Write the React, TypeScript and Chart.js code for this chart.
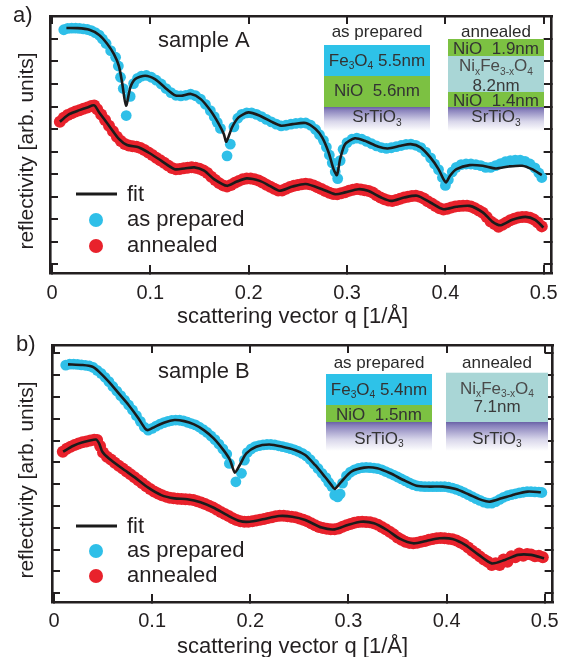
import React, { useEffect, useRef } from "react";
import { Chart, registerables } from "chart.js";

Chart.register(...registerables);

const FONT = "'Liberation Sans', Arial, Helvetica, sans-serif";
const INK = "#231f20";
const CYAN = "#2fbfe8";
const RED = "#e8222c";
const FIT = "#1b1b1b";

// ---------- axes ----------
const qMin = -0.002;
const qMax = 0.508;
const qStep = 0.1;
const rStep = 1;

// ---------- panel a : sample A ----------
const aRange = [-0.39, 11.02];

const aFitPrepared: [number, number][] = [
  [0.0147, 10.49], [0.026, 10.48], [0.038, 10.41], [0.048, 10.18], [0.0563, 9.78], [0.063, 9.33],
  [0.068, 8.81], [0.0713, 8.07], [0.0753, 7.04], [0.0797, 7.85], [0.0847, 8.22], [0.0947, 8.37],
  [0.1047, 8.22], [0.1147, 7.85], [0.1247, 7.51], [0.1313, 7.48], [0.1413, 7.56], [0.1513, 7.33],
  [0.1613, 6.81], [0.1697, 6.22], [0.1747, 5.78], [0.1773, 5.44], [0.183, 6.07], [0.1897, 6.52],
  [0.1997, 6.74], [0.2113, 6.59], [0.223, 6.33], [0.233, 6.15], [0.2447, 6.22], [0.258, 6.27],
  [0.268, 6.0], [0.2747, 5.63], [0.2813, 4.96], [0.2863, 4.22], [0.2897, 3.96], [0.293, 4.67],
  [0.298, 5.33], [0.308, 5.59], [0.318, 5.48], [0.3313, 5.23], [0.3413, 5.14], [0.3547, 5.26],
  [0.3647, 5.33], [0.3747, 5.19], [0.3847, 4.74], [0.393, 4.22], [0.398, 3.78], [0.4007, 3.63],
  [0.4047, 3.93], [0.4113, 4.22], [0.4247, 4.4], [0.438, 4.37], [0.4513, 4.25], [0.4647, 4.34],
  [0.478, 4.37], [0.488, 4.22], [0.498, 3.96],
];

const aFitAnnealed: [number, number][] = [
  [0.008, 6.33], [0.018, 6.67], [0.028, 6.84], [0.036, 6.96], [0.043, 7.05], [0.048, 6.74],
  [0.058, 6.15], [0.068, 5.56], [0.0763, 5.29], [0.088, 5.19], [0.098, 4.96], [0.1113, 4.59],
  [0.1247, 4.22], [0.1347, 4.25], [0.1447, 4.3], [0.1547, 4.15], [0.1647, 3.78], [0.178, 3.48],
  [0.188, 3.67], [0.198, 3.81], [0.2113, 3.7], [0.2213, 3.48], [0.2313, 3.26], [0.2447, 3.45],
  [0.258, 3.56], [0.2747, 3.33], [0.288, 3.11], [0.298, 3.19], [0.3113, 3.33], [0.3213, 3.26],
  [0.3347, 2.96], [0.3447, 2.81], [0.358, 2.96], [0.3713, 3.04], [0.3847, 2.74], [0.398, 2.44],
  [0.4113, 2.55], [0.4247, 2.59], [0.438, 2.3], [0.448, 1.88], [0.4563, 1.73], [0.468, 1.97],
  [0.4813, 2.1], [0.4913, 1.97], [0.4997, 1.63],
];

const aPrepared: [number, number][] = [
  [0.012, 10.41], [0.016, 10.47], [0.02, 10.48], [0.024, 10.48], [0.028, 10.47], [0.032, 10.45],
  [0.036, 10.42], [0.04, 10.37], [0.044, 10.28], [0.048, 10.17], [0.0513, 10.0], [0.055, 9.8],
  [0.0597, 9.48], [0.0647, 9.19], [0.0675, 8.8], [0.0697, 8.3], [0.0725, 7.8], [0.0755, 6.6],
  [0.0795, 7.45], [0.083, 8.02], [0.087, 8.25], [0.091, 8.35], [0.096, 8.38], [0.101, 8.3],
  [0.106, 8.17], [0.111, 8.0], [0.116, 7.8], [0.121, 7.62], [0.126, 7.5], [0.131, 7.47],
  [0.136, 7.5], [0.141, 7.55], [0.146, 7.48], [0.151, 7.33], [0.156, 7.1], [0.161, 6.82],
  [0.165, 6.55], [0.168, 6.3], [0.1713, 6.03], [0.178, 4.81], [0.1813, 5.33], [0.185, 6.1],
  [0.189, 6.48], [0.193, 6.65], [0.198, 6.72], [0.203, 6.72], [0.208, 6.65], [0.213, 6.55],
  [0.218, 6.43], [0.223, 6.32], [0.228, 6.22], [0.233, 6.14], [0.238, 6.17], [0.243, 6.22],
  [0.248, 6.25], [0.253, 6.27], [0.258, 6.27], [0.263, 6.17], [0.268, 5.98], [0.272, 5.75],
  [0.276, 5.5], [0.279, 5.2], [0.282, 4.85], [0.285, 4.5], [0.288, 4.1], [0.2905, 3.8],
  [0.293, 4.6], [0.296, 5.1], [0.3, 5.4], [0.305, 5.55], [0.31, 5.6], [0.315, 5.55],
  [0.32, 5.45], [0.325, 5.35], [0.33, 5.25], [0.335, 5.18], [0.34, 5.14], [0.345, 5.17],
  [0.35, 5.22], [0.355, 5.27], [0.36, 5.32], [0.365, 5.33], [0.37, 5.28], [0.375, 5.18],
  [0.38, 4.98], [0.385, 4.72], [0.389, 4.45], [0.393, 4.2], [0.397, 3.85], [0.4, 3.5],
  [0.403, 3.75], [0.407, 4.1], [0.411, 4.3], [0.416, 4.42], [0.421, 4.45], [0.426, 4.45],
  [0.431, 4.42], [0.436, 4.38], [0.441, 4.3], [0.446, 4.3], [0.451, 4.38], [0.456, 4.47],
  [0.461, 4.55], [0.466, 4.6], [0.471, 4.62], [0.476, 4.62], [0.481, 4.57], [0.486, 4.45],
  [0.491, 4.28], [0.495, 4.05], [0.498, 3.85],
];

const aAnnealed: [number, number][] = [
  [0.008, 6.33], [0.012, 6.5], [0.016, 6.62], [0.02, 6.7], [0.024, 6.78], [0.028, 6.84],
  [0.032, 6.9], [0.036, 6.96], [0.04, 7.02], [0.043, 7.05], [0.046, 6.88], [0.05, 6.65],
  [0.054, 6.4], [0.058, 6.15], [0.062, 5.9], [0.066, 5.66], [0.07, 5.47], [0.074, 5.34],
  [0.078, 5.27], [0.082, 5.24], [0.086, 5.21], [0.09, 5.16], [0.094, 5.07], [0.098, 4.96],
  [0.102, 4.85], [0.106, 4.73], [0.11, 4.62], [0.114, 4.5], [0.118, 4.38], [0.122, 4.27],
  [0.126, 4.22], [0.13, 4.23], [0.134, 4.26], [0.138, 4.28], [0.142, 4.3], [0.146, 4.28],
  [0.15, 4.24], [0.154, 4.16], [0.158, 4.05], [0.162, 3.88], [0.166, 3.74], [0.17, 3.6],
  [0.174, 3.5], [0.178, 3.45], [0.182, 3.52], [0.186, 3.62], [0.19, 3.7], [0.194, 3.77],
  [0.198, 3.8], [0.202, 3.8], [0.206, 3.77], [0.21, 3.72], [0.214, 3.63], [0.218, 3.53],
  [0.222, 3.44], [0.226, 3.35], [0.23, 3.27], [0.234, 3.27], [0.238, 3.35], [0.242, 3.43],
  [0.246, 3.48], [0.25, 3.52], [0.254, 3.55], [0.258, 3.57], [0.262, 3.55], [0.266, 3.5],
  [0.27, 3.42], [0.274, 3.34], [0.278, 3.25], [0.282, 3.17], [0.286, 3.12], [0.29, 3.11],
  [0.294, 3.15], [0.298, 3.2], [0.302, 3.26], [0.306, 3.31], [0.31, 3.34], [0.314, 3.32],
  [0.318, 3.28], [0.322, 3.25], [0.326, 3.18], [0.33, 3.06], [0.334, 2.96], [0.338, 2.88],
  [0.342, 2.83], [0.346, 2.81], [0.35, 2.85], [0.354, 2.91], [0.358, 2.96], [0.362, 3.0],
  [0.366, 3.03], [0.37, 3.04], [0.374, 3.0], [0.378, 2.92], [0.382, 2.8], [0.386, 2.7],
  [0.39, 2.58], [0.394, 2.48], [0.398, 2.43], [0.402, 2.46], [0.406, 2.52], [0.41, 2.56],
  [0.414, 2.58], [0.418, 2.6], [0.422, 2.6], [0.426, 2.56], [0.43, 2.48], [0.434, 2.38],
  [0.438, 2.28], [0.442, 2.1], [0.446, 1.9], [0.45, 1.78], [0.454, 1.66], [0.458, 1.75],
  [0.462, 1.85], [0.466, 1.95], [0.47, 2.02], [0.474, 2.07], [0.478, 2.1], [0.482, 2.1],
  [0.486, 2.06], [0.49, 1.98], [0.494, 1.85], [0.498, 1.68],
];

// ---------- panel b : sample B ----------
const bRange = [-0.4, 11.38];

const bFitPrepared: [number, number][] = [
  [0.0143, 10.49], [0.0293, 10.46], [0.0393, 10.38], [0.046, 10.15], [0.056, 9.69], [0.066, 9.16],
  [0.076, 8.63], [0.086, 8.02], [0.0927, 7.56], [0.096, 7.48], [0.1027, 7.63], [0.1127, 7.83],
  [0.1227, 7.94], [0.1327, 7.89], [0.1427, 7.74], [0.1527, 7.48], [0.1627, 7.1], [0.1727, 6.56],
  [0.1793, 6.11], [0.1843, 5.53], [0.1893, 5.88], [0.196, 6.41], [0.206, 6.72], [0.2193, 6.82],
  [0.2327, 6.72], [0.246, 6.56], [0.256, 6.34], [0.266, 5.88], [0.276, 5.34], [0.2827, 4.96],
  [0.286, 4.78], [0.2927, 5.11], [0.3027, 5.57], [0.316, 5.76], [0.3293, 5.73], [0.3427, 5.5],
  [0.356, 5.19], [0.3693, 4.93], [0.3827, 4.89], [0.396, 4.89], [0.4093, 4.78], [0.4227, 4.53],
  [0.436, 4.27], [0.4443, 4.2], [0.456, 4.35], [0.4693, 4.53], [0.4827, 4.66], [0.496, 4.63],
];

const bFitAnnealed: [number, number][] = [
  [0.0093, 6.49], [0.0193, 6.75], [0.0293, 6.92], [0.0427, 7.05], [0.046, 6.87], [0.0493, 6.49],
  [0.056, 6.18], [0.0693, 5.73], [0.0827, 5.3], [0.096, 4.84], [0.1093, 4.5], [0.1227, 4.35],
  [0.136, 4.31], [0.1493, 4.17], [0.1627, 3.92], [0.176, 3.59], [0.1893, 3.31], [0.1993, 3.28],
  [0.2127, 3.39], [0.2293, 3.54], [0.2427, 3.51], [0.256, 3.36], [0.2727, 3.01], [0.286, 2.93],
  [0.2993, 3.13], [0.3127, 3.28], [0.326, 3.21], [0.3393, 2.9], [0.3527, 2.49], [0.366, 2.29],
  [0.3793, 2.4], [0.3927, 2.52], [0.406, 2.49], [0.4193, 2.21], [0.4327, 1.76], [0.446, 1.37],
  [0.4593, 1.53], [0.4727, 1.76], [0.486, 1.76], [0.4993, 1.6],
];

const bPrepared: [number, number][] = [
  [0.012, 10.46], [0.016, 10.5], [0.02, 10.5], [0.024, 10.49], [0.028, 10.47], [0.032, 10.45],
  [0.036, 10.42], [0.04, 10.35], [0.044, 10.22], [0.048, 10.08], [0.052, 9.9], [0.056, 9.7],
  [0.06, 9.48], [0.064, 9.27], [0.068, 9.06], [0.072, 8.85], [0.076, 8.63], [0.08, 8.4],
  [0.084, 8.14], [0.088, 7.88], [0.092, 7.62], [0.096, 7.48], [0.1, 7.56], [0.104, 7.66],
  [0.108, 7.75], [0.112, 7.82], [0.116, 7.88], [0.12, 7.92], [0.124, 7.94], [0.128, 7.93],
  [0.132, 7.9], [0.136, 7.84], [0.14, 7.78], [0.144, 7.72], [0.148, 7.62], [0.152, 7.5],
  [0.156, 7.37], [0.16, 7.21], [0.164, 7.04], [0.168, 6.84], [0.172, 6.62], [0.176, 6.38],
  [0.1787, 5.95], [0.1853, 5.11], [0.191, 5.5], [0.194, 6.1], [0.197, 6.45], [0.201, 6.62],
  [0.205, 6.72], [0.209, 6.77], [0.213, 6.8], [0.217, 6.82], [0.221, 6.82], [0.225, 6.8],
  [0.229, 6.76], [0.233, 6.72], [0.237, 6.68], [0.241, 6.63], [0.245, 6.57], [0.249, 6.5],
  [0.253, 6.41], [0.257, 6.3], [0.261, 6.13], [0.265, 5.93], [0.269, 5.72], [0.273, 5.5],
  [0.277, 5.3], [0.28, 5.08], [0.283, 4.9], [0.286, 4.5], [0.289, 4.42], [0.2915, 4.55],
  [0.294, 5.05], [0.298, 5.38], [0.302, 5.55], [0.306, 5.65], [0.31, 5.72], [0.314, 5.76],
  [0.318, 5.77], [0.322, 5.76], [0.326, 5.74], [0.33, 5.71], [0.334, 5.66], [0.338, 5.58],
  [0.342, 5.5], [0.346, 5.42], [0.35, 5.33], [0.354, 5.24], [0.358, 5.15], [0.362, 5.06],
  [0.366, 4.98], [0.37, 4.92], [0.374, 4.9], [0.378, 4.89], [0.382, 4.89], [0.386, 4.89],
  [0.39, 4.89], [0.394, 4.89], [0.398, 4.89], [0.402, 4.86], [0.406, 4.82], [0.41, 4.76],
  [0.414, 4.69], [0.418, 4.61], [0.422, 4.52], [0.426, 4.43], [0.43, 4.34], [0.434, 4.26],
  [0.438, 4.18], [0.442, 4.13], [0.446, 4.13], [0.45, 4.2], [0.454, 4.3], [0.458, 4.4],
  [0.462, 4.47], [0.466, 4.52], [0.47, 4.56], [0.474, 4.6], [0.478, 4.63], [0.482, 4.66],
  [0.486, 4.66], [0.49, 4.65], [0.494, 4.64], [0.497, 4.62],
];

const bAnnealed: [number, number][] = [
  [0.009, 6.49], [0.013, 6.62], [0.017, 6.72], [0.021, 6.8], [0.025, 6.87], [0.029, 6.92],
  [0.033, 6.96], [0.037, 7.0], [0.041, 7.04], [0.044, 7.03], [0.047, 6.75], [0.05, 6.45],
  [0.054, 6.26], [0.058, 6.13], [0.062, 5.98], [0.066, 5.84], [0.07, 5.72], [0.074, 5.58],
  [0.078, 5.45], [0.082, 5.32], [0.086, 5.18], [0.09, 5.04], [0.094, 4.9], [0.098, 4.78],
  [0.102, 4.67], [0.106, 4.57], [0.11, 4.49], [0.114, 4.43], [0.118, 4.38], [0.122, 4.35],
  [0.126, 4.33], [0.13, 4.32], [0.134, 4.31], [0.138, 4.3], [0.142, 4.27], [0.146, 4.22],
  [0.15, 4.16], [0.154, 4.09], [0.158, 4.01], [0.162, 3.93], [0.166, 3.83], [0.17, 3.73],
  [0.174, 3.63], [0.178, 3.54], [0.182, 3.44], [0.186, 3.36], [0.19, 3.3], [0.194, 3.28],
  [0.198, 3.28], [0.202, 3.3], [0.206, 3.34], [0.21, 3.37], [0.214, 3.4], [0.218, 3.45],
  [0.222, 3.49], [0.226, 3.53], [0.23, 3.55], [0.234, 3.55], [0.238, 3.53], [0.242, 3.51],
  [0.246, 3.48], [0.25, 3.43], [0.254, 3.37], [0.258, 3.3], [0.262, 3.21], [0.266, 3.12],
  [0.27, 3.04], [0.274, 2.99], [0.278, 2.96], [0.282, 2.94], [0.286, 2.93], [0.29, 2.97],
  [0.294, 3.05], [0.298, 3.12], [0.302, 3.18], [0.306, 3.23], [0.31, 3.27], [0.314, 3.28],
  [0.318, 3.27], [0.322, 3.25], [0.326, 3.21], [0.33, 3.14], [0.334, 3.04], [0.338, 2.93],
  [0.342, 2.82], [0.346, 2.7], [0.35, 2.56], [0.354, 2.45], [0.358, 2.36], [0.362, 2.31],
  [0.366, 2.29], [0.37, 2.32], [0.374, 2.36], [0.378, 2.4], [0.382, 2.45], [0.386, 2.49],
  [0.39, 2.52], [0.394, 2.53], [0.398, 2.52], [0.402, 2.5], [0.406, 2.48], [0.41, 2.42],
  [0.414, 2.33], [0.418, 2.23], [0.422, 2.1], [0.426, 1.95], [0.43, 1.82], [0.434, 1.68],
  [0.438, 1.55], [0.442, 1.45], [0.446, 1.3], [0.45, 1.38], [0.454, 1.3], [0.458, 1.55],
  [0.462, 1.45], [0.466, 1.7], [0.47, 1.65], [0.474, 1.82], [0.478, 1.72], [0.482, 1.8],
  [0.486, 1.78], [0.49, 1.7], [0.494, 1.72], [0.498, 1.65],
];

// ---------- text ----------
const xTitle = "scattering vector q [1/\u00c5]";
const yTitle = "reflectivity [arb. units]";
const legendLabels = ["fit", "as prepared", "annealed"];

type Seg = [string, boolean?];
interface LayerText { segs: Seg[]; y: number; size?: number; color?: string }
interface Layer { y0: number; y1: number; fill: string; texts: LayerText[] }
interface Stack { x0: number; x1: number; title: string; titleY: number; layers: Layer[] }
interface PanelSpec {
  height: number;
  pad: { left: number; top: number; right: number };
  xAxisH: number;
  tickPad: number;
  yRange: number[];
  prepared: [number, number][];
  annealed: [number, number][];
  fitPrepared: [number, number][];
  fitAnnealed: [number, number][];
  letter: string; letterPos: [number, number];
  sample: string; samplePos: [number, number];
  xTitlePos: [number, number];
  yTitlePos: [number, number];
  legendY: [number, number, number];
  stacks: Stack[];
}

const C_FE = "#2ec2e8";
const C_NIO = "#7cc142";
const C_MIX = "#a9d6d6";
const STO = "sto";

const panelA: PanelSpec = {
  height: 330,
  pad: { left: 50, top: 16, right: 14 },
  xAxisH: 57,
  tickPad: 16,
  yRange: aRange,
  prepared: aPrepared,
  annealed: aAnnealed,
  fitPrepared: aFitPrepared,
  fitAnnealed: aFitAnnealed,
  letter: "a)", letterPos: [13, 22],
  sample: "sample A", samplePos: [158, 47],
  xTitlePos: [177, 323],
  yTitlePos: [33, 151],
  legendY: [194, 220, 246],
  stacks: [
    {
      x0: 324, x1: 430, title: "as prepared", titleY: 37,
      layers: [
        { y0: 45, y1: 76, fill: C_FE, texts: [{ segs: [["Fe"], ["3", true], ["O"], ["4", true], [" 5.5nm"]], y: 65.5 }] },
        { y0: 76, y1: 107, fill: C_NIO, texts: [{ segs: [["NiO  5.6nm"]], y: 96 }] },
        { y0: 107, y1: 131, fill: STO, texts: [{ segs: [["SrTiO"], ["3", true]], y: 122 }] },
      ],
    },
    {
      x0: 448, x1: 544, title: "annealed", titleY: 37,
      layers: [
        { y0: 39, y1: 56, fill: C_NIO, texts: [{ segs: [["NiO  1.9nm"]], y: 54 }] },
        {
          y0: 56, y1: 92, fill: C_MIX, texts: [
            { segs: [["Ni"], ["x", true], ["Fe"], ["3-x", true], ["O"], ["4", true]], y: 71, color: "#4a4a4a" },
            { segs: [["8.2nm"]], y: 90.5, color: "#3a3a3a" },
          ],
        },
        { y0: 92, y1: 107, fill: C_NIO, texts: [{ segs: [["NiO  1.4nm"]], y: 106 }] },
        { y0: 107, y1: 131, fill: STO, texts: [{ segs: [["SrTiO"], ["3", true]], y: 122 }] },
      ],
    },
  ],
};

const panelB: PanelSpec = {
  height: 327,
  pad: { left: 52, top: 15, right: 12 },
  xAxisH: 55,
  tickPad: 15,
  yRange: bRange,
  prepared: bPrepared,
  annealed: bAnnealed,
  fitPrepared: bFitPrepared,
  fitAnnealed: bFitAnnealed,
  letter: "b)", letterPos: [16, 21],
  sample: "sample B", samplePos: [158, 48],
  xTitlePos: [177, 323],
  yTitlePos: [33, 150],
  legendY: [196, 221, 246],
  stacks: [
    {
      x0: 326, x1: 432, title: "as prepared", titleY: 38,
      layers: [
        { y0: 44, y1: 75, fill: C_FE, texts: [{ segs: [["Fe"], ["3", true], ["O"], ["4", true], [" 5.4nm"]], y: 64.5 }] },
        { y0: 75, y1: 92, fill: C_NIO, texts: [{ segs: [["NiO  1.5nm"]], y: 89.5 }] },
        { y0: 92, y1: 121, fill: STO, texts: [{ segs: [["SrTiO"], ["3", true]], y: 113.5 }] },
      ],
    },
    {
      x0: 446, x1: 548, title: "annealed", titleY: 38,
      layers: [
        {
          y0: 42.7, y1: 92, fill: C_MIX, texts: [
            { segs: [["Ni"], ["x", true], ["Fe"], ["3-x", true], ["O"], ["4", true]], y: 63.5, color: "#4a4a4a" },
            { segs: [["7.1nm"]], y: 82, color: "#3a3a3a" },
          ],
        },
        { y0: 92, y1: 121, fill: STO, texts: [{ segs: [["SrTiO"], ["3", true]], y: 113.5 }] },
      ],
    },
  ],
};

function drawRich(ctx: CanvasRenderingContext2D, segs: Seg[], cx: number, y: number, size: number, color: string) {
  const sub = size * 0.6;
  let w = 0;
  for (const [t, s] of segs) {
    ctx.font = `${s ? sub : size}px ${FONT}`;
    w += ctx.measureText(t).width;
  }
  let x = cx - w / 2;
  ctx.fillStyle = color;
  ctx.textAlign = "left";
  ctx.textBaseline = "alphabetic";
  for (const [t, s] of segs) {
    ctx.font = `${s ? sub : size}px ${FONT}`;
    ctx.fillText(t, x, s ? y + size * 0.22 : y);
    x += ctx.measureText(t).width;
  }
}

function overlayPlugin(spec: PanelSpec) {
  return {
    id: "overlay",
    afterDraw(chart: any) {
      const ctx: CanvasRenderingContext2D = chart.ctx;
      ctx.save();
      // layer stacks
      for (const st of spec.stacks) {
        const cx = (st.x0 + st.x1) / 2;
        ctx.font = `17px ${FONT}`;
        ctx.fillStyle = "#2a2a2a";
        ctx.textAlign = "center";
        ctx.textBaseline = "alphabetic";
        ctx.fillText(st.title, cx, st.titleY);
        for (const ly of st.layers) {
          if (ly.fill === STO) {
            const g = ctx.createLinearGradient(0, ly.y0, 0, ly.y1);
            g.addColorStop(0, "#6a62a6");
            g.addColorStop(0.12, "#8780bb");
            g.addColorStop(0.6, "#d8d6ea");
            g.addColorStop(1, "#ffffff");
            ctx.fillStyle = g;
          } else {
            ctx.fillStyle = ly.fill;
          }
          ctx.fillRect(st.x0, ly.y0, st.x1 - st.x0, ly.y1 - ly.y0);
          for (const tx of ly.texts) {
            drawRich(ctx, tx.segs, cx, tx.y, tx.size ?? 17, tx.color ?? "#333333");
          }
        }
      }
      // panel letter and sample name
      ctx.fillStyle = INK;
      ctx.textAlign = "left";
      ctx.textBaseline = "alphabetic";
      ctx.font = `22px ${FONT}`;
      ctx.fillText(spec.letter, spec.letterPos[0], spec.letterPos[1]);
      ctx.fillText(spec.sample, spec.samplePos[0], spec.samplePos[1]);
      // axis titles
      ctx.fillText(xTitle, spec.xTitlePos[0], spec.xTitlePos[1]);
      ctx.save();
      ctx.translate(spec.yTitlePos[0], spec.yTitlePos[1]);
      ctx.rotate(-Math.PI / 2);
      ctx.textAlign = "center";
      ctx.font = `21px ${FONT}`;
      ctx.fillText(yTitle, 0, 0);
      ctx.restore();
      // legend
      const [ly0, ly1, ly2] = spec.legendY;
      ctx.strokeStyle = FIT;
      ctx.lineWidth = 3;
      ctx.beginPath();
      ctx.moveTo(76, ly0);
      ctx.lineTo(117, ly0);
      ctx.stroke();
      ctx.fillStyle = CYAN;
      ctx.beginPath();
      ctx.arc(96, ly1, 7, 0, Math.PI * 2);
      ctx.fill();
      ctx.fillStyle = RED;
      ctx.beginPath();
      ctx.arc(96, ly2, 7, 0, Math.PI * 2);
      ctx.fill();
      ctx.fillStyle = INK;
      ctx.font = `22px ${FONT}`;
      ctx.textAlign = "left";
      ctx.textBaseline = "middle";
      ctx.fillText(legendLabels[0], 127, ly0 + 1);
      ctx.fillText(legendLabels[1], 127, ly1);
      ctx.fillText(legendLabels[2], 127, ly2);
      ctx.restore();
    },
  };
}

function buildConfig(spec: PanelSpec): any {
  const grid = { drawOnChartArea: false, drawTicks: true, tickLength: -8, lineWidth: 2, color: INK, tickColor: INK, tickWidth: 2 };
  const border = { display: true, color: INK, width: 2.6 };
  const toXY = (arr: [number, number][]) => arr.map(([x, y]) => ({ x, y }));
  return {
    type: "scatter",
    data: {
      datasets: [
        { type: "line", label: "fit", data: toXY(spec.fitPrepared), borderColor: FIT, borderWidth: 2.6, pointRadius: 0, tension: 0.25, fill: false, order: 1 },
        { type: "line", label: "fit", data: toXY(spec.fitAnnealed), borderColor: FIT, borderWidth: 2.6, pointRadius: 0, tension: 0.25, fill: false, order: 1 },
        { label: "as prepared", data: toXY(spec.prepared), backgroundColor: CYAN, borderWidth: 0, pointRadius: 5.4, order: 2 },
        { label: "annealed", data: toXY(spec.annealed), backgroundColor: RED, borderWidth: 0, pointRadius: 6, order: 2 },
      ],
    },
    options: {
      responsive: false,
      animation: false,
      events: [],
      layout: { padding: { left: spec.pad.left, top: spec.pad.top, right: spec.pad.right, bottom: 0 } },
      plugins: { legend: { display: false }, tooltip: { enabled: false }, title: { display: false } },
      scales: {
        x: {
          type: "linear", position: "bottom", min: qMin, max: qMax,
          afterFit: (s: any) => { s.height = spec.xAxisH; },
          ticks: { stepSize: qStep, includeBounds: false, autoSkip: false, maxRotation: 0, padding: spec.tickPad, color: INK, font: { family: FONT, size: 20 } },
          grid, border,
        },
        x2: {
          type: "linear", position: "top", min: qMin, max: qMax,
          afterFit: (s: any) => { s.height = 0; },
          ticks: { display: false, stepSize: qStep, includeBounds: false },
          grid, border,
        },
        y: {
          type: "linear", position: "left", min: spec.yRange[0], max: spec.yRange[1],
          afterFit: (s: any) => { s.width = 0; },
          ticks: { display: false, stepSize: rStep, includeBounds: false },
          grid, border,
        },
        y2: {
          type: "linear", position: "right", min: spec.yRange[0], max: spec.yRange[1],
          afterFit: (s: any) => { s.width = 0; },
          ticks: { display: false, stepSize: rStep, includeBounds: false },
          grid, border,
        },
      },
    },
    plugins: [overlayPlugin(spec)],
  };
}

function Panel({ spec }: { spec: PanelSpec }) {
  const ref = useRef<HTMLCanvasElement>(null);
  useEffect(() => {
    const chart = new Chart(ref.current as HTMLCanvasElement, buildConfig(spec));
    return () => chart.destroy();
  }, [spec]);
  return <canvas ref={ref} width={574} height={spec.height} style={{ display: "block", width: 574, height: spec.height }} />;
}

export default function App() {
  return (
    <div style={{ position: "absolute", left: 0, top: 0, width: 574, height: 657, background: "#ffffff", overflow: "hidden" }}>
      <Panel spec={panelA} />
      <Panel spec={panelB} />
    </div>
  );
}
